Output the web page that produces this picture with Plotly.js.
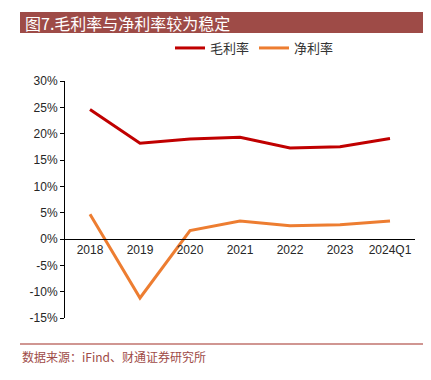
<!DOCTYPE html>
<html>
<head>
<meta charset="utf-8">
<script src="https://cdn.plot.ly/plotly-3.0.1.min.js"></script>
<style>html,body{margin:0;padding:0;background:#fff;}#chart{width:431px;height:380px;}</style>
</head>
<body>
<div id="chart"></div>
<script>
const categories = ["2018", "2019", "2020", "2021", "2022", "2023", "2024Q1"];
const grossMargin = [24.6, 18.2, 19.0, 19.3, 17.3, 17.5, 19.1];
const netMargin = [4.7, -11.2, 1.6, 3.4, 2.5, 2.7, 3.4];
const yTickVals = [30, 25, 20, 15, 10, 5, 0, -5, -10, -15];
const yTickText = ["30%", "25%", "20%", "15%", "10%", "5%", "0%", "-5%", "-10%", "-15%"];
const seriesNames = ["毛利率", "净利率"];
const chartTitle = "图7.毛利率与净利率较为稳定";
const sourceText = "数据来源：iFind、财通证券研究所";

// plot area in pixels: left 65, right 415, top 81, bottom 318
const L = 65, R = 415, T = 81, B = 318;
const px = x => (x - L) / (R - L);
const py = y => (B - y) / (B - T);

const cjk = '"Noto Sans CJK SC", "Noto Sans", sans-serif';
const tickFont = {family: '"Liberation Sans", Arial, sans-serif', size: 12, color: '#262626'};

const traces = [
  {x: categories, y: grossMargin, name: seriesNames[0], type: 'scatter', mode: 'lines',
   line: {color: '#C00000', width: 3}},
  {x: categories, y: netMargin, name: seriesNames[1], type: 'scatter', mode: 'lines',
   line: {color: '#ED7D31', width: 3}}
];

const layout = {
  width: 431, height: 380,
  margin: {l: L, r: 431 - R, t: T, b: 380 - B, pad: 0},
  paper_bgcolor: '#fff', plot_bgcolor: '#fff',
  showlegend: true,
  legend: {orientation: 'h', x: px(170), y: py(48), xanchor: 'left', yanchor: 'middle',
           font: {family: cjk, size: 13, color: '#333'}, itemwidth: 30, bgcolor: 'rgba(0,0,0,0)'},
  xaxis: {type: 'category', range: [-0.5, 6.5], anchor: 'free', position: 15 / 45,
          showline: true, linecolor: '#000', linewidth: 1, ticks: '', showgrid: false,
          zeroline: false, tickfont: tickFont, fixedrange: true},
  yaxis: {range: [-15, 30], tickvals: yTickVals, ticktext: yTickText,
          showline: true, linecolor: '#000', linewidth: 1, ticks: 'outside', ticklen: 4,
          tickcolor: '#000', showgrid: false, zeroline: false, tickfont: tickFont, fixedrange: true},
  shapes: [
    {type: 'rect', xref: 'paper', yref: 'paper', x0: px(20), x1: px(423), y0: py(33), y1: py(12),
     fillcolor: '#9E4B47', line: {width: 0}},
    {type: 'line', xref: 'paper', yref: 'paper', x0: px(20), x1: px(423), y0: py(344), y1: py(344),
     line: {color: '#C0736E', width: 1.5}}
  ],
  annotations: [
    {text: chartTitle, xref: 'paper', yref: 'paper', x: px(23), y: py(22.5), xanchor: 'left', yanchor: 'middle',
     showarrow: false, font: {family: cjk, size: 16, color: '#fff'}},
    {text: sourceText, xref: 'paper', yref: 'paper', x: px(20), y: py(356), xanchor: 'left', yanchor: 'middle',
     showarrow: false, font: {family: cjk, size: 12, color: '#9E4B47'}}
  ]
};

Plotly.newPlot('chart', traces, layout, {displayModeBar: false, staticPlot: true});
</script>
</body>
</html>
